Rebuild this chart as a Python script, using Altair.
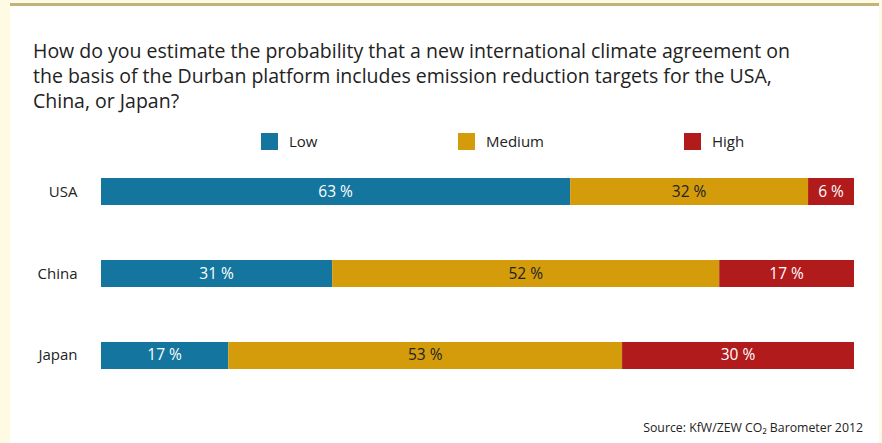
import altair as alt
import pandas as pd

countries = ["USA", "China", "Japan"]
levels = ["Low", "Medium", "High"]
# printed percentages
low_pct = [63, 31, 17]
medium_pct = [32, 52, 53]
high_pct = [6, 17, 30]
# segment shares as drawn
low_share = [62.3, 30.7, 16.9]
medium_share = [31.6, 51.4, 52.3]
high_share = [6.1, 17.9, 30.8]
colors = ["#14769E", "#D49C0B", "#B11B1C"]
title_lines = [
    "How do you estimate the probability that a new international climate agreement on",
    "the basis of the Durban platform includes emission reduction targets for the USA,",
    "China, or Japan?",
]
source_text = "Source: KfW/ZEW CO\u2082 Barometer 2012"

FONT = "Open Sans"
TXT = "#222222"

rows = []
for i, c in enumerate(countries):
    for j, (lvl, shares, pcts) in enumerate(zip(levels,
                                                  [low_share, medium_share, high_share],
                                                  [low_pct, medium_pct, high_pct])):
        rows.append({"country": c, "level": lvl, "order": j,
                     "value": shares[i], "label": f"{pcts[i]} %"})
df = pd.DataFrame(rows)

W, H = 753, 245
PL, PT = 101, 151

base = alt.Chart(df).transform_stack(
    stack="value", groupby=["country"], as_=["x0", "x1"],
    offset="normalize", sort=[alt.SortField("order")]
).transform_calculate(mid="(datum.x0 + datum.x1) / 2")

yenc = alt.Y("country:N", sort=countries, title=None,
             scale=alt.Scale(paddingInner=0.67, paddingOuter=0.33),
             axis=alt.Axis(ticks=False, domain=False, labelPadding=24, zindex=2,
                           labelFontSize=15, labelColor=TXT, labelFont=FONT))

bars = base.mark_bar().encode(
    x=alt.X("x0:Q", scale=alt.Scale(domain=[0, 1]), axis=None),
    x2="x1:Q",
    y=yenc,
    color=alt.Color("level:N", scale=alt.Scale(domain=levels, range=colors),
                    legend=alt.Legend(title=None, orient="none", direction="horizontal",
                                      legendX=160, legendY=-18, zindex=2,
                                      symbolType="square", symbolSize=289,
                                      symbolStrokeWidth=0, symbolOpacity=1,
                                      labelFontSize=15, labelFont=FONT, labelColor=TXT,
                                      labelOffset=11, columnPadding=140)),
)

labels = base.mark_text(fontSize=15.5, font=FONT, baseline="middle").encode(
    x=alt.X("mid:Q"),
    y=yenc,
    text="label:N",
    color=alt.when(alt.datum.level == "Medium").then(alt.value(TXT)).otherwise(alt.value("white")),
)

one = pd.DataFrame({"a": [0]})
panel = alt.Chart(one).mark_rect(color="white").encode(
    x=alt.value(10 - PL), x2=alt.value(879 - PL),
    y=alt.value(6 - PT), y2=alt.value(443 - PT))
topline = alt.Chart(one).mark_rect(color="#C2B27E").encode(
    x=alt.value(10 - PL), x2=alt.value(879 - PL),
    y=alt.value(3 - PT), y2=alt.value(6 - PT))
title = alt.Chart(one).mark_text(text=title_lines, align="left", baseline="alphabetic",
                                  fontSize=19.5, font=FONT, color=TXT, lineHeight=25).encode(
    x=alt.value(33 - PL), y=alt.value(58 - PT))
source = alt.Chart(one).mark_text(text=source_text, align="right", baseline="alphabetic",
                                   fontSize=12.3, font=FONT, color=TXT).encode(
    x=alt.value(863 - PL), y=alt.value(432 - PT))

chart = alt.layer(panel, topline, title, source, bars, labels).properties(
    width=W, height=H,
    autosize=alt.AutoSizeParams(type="none"),
    padding={"left": PL, "top": PT, "right": 882 - PL - W, "bottom": 443 - PT - H},
    background="#FEFAE3",
).configure_view(stroke=None)

chart.save("out.html", embed_options={"renderer": "svg", "actions": False})
